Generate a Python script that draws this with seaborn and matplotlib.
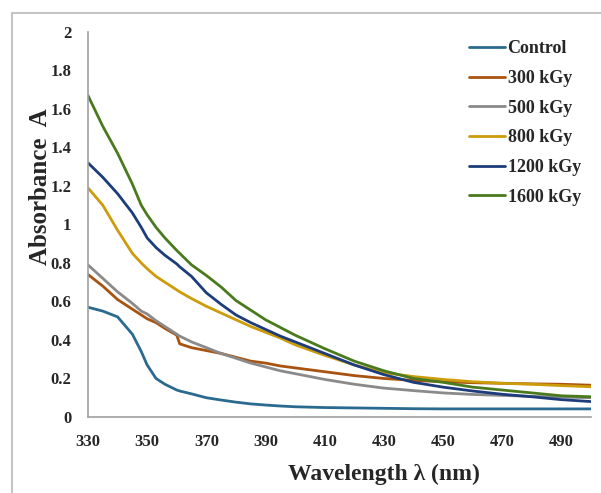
import matplotlib
matplotlib.use("Agg")
import matplotlib.pyplot as plt
from matplotlib.patches import Rectangle
import seaborn as sns
import pandas as pd

wavelength = [330, 335, 340, 345, 348, 350, 353, 356, 360, 361, 365, 370, 375, 380,
              385, 390, 395, 400, 410, 420, 430, 440, 450, 460, 470, 480, 490, 500]

control = [0.57, 0.55, 0.52, 0.43, 0.34, 0.27, 0.20, 0.17, 0.14, 0.135, 0.12, 0.10, 0.088, 0.077,
           0.068, 0.062, 0.057, 0.053, 0.049, 0.047, 0.045, 0.043, 0.042, 0.042, 0.042, 0.042, 0.042, 0.042]
kgy300 = [0.74, 0.68, 0.61, 0.56, 0.53, 0.51, 0.49, 0.46, 0.425, 0.38, 0.36, 0.345, 0.33, 0.31,
          0.29, 0.28, 0.265, 0.255, 0.235, 0.215, 0.20, 0.19, 0.183, 0.178, 0.175, 0.172, 0.17, 0.165]
kgy500 = [0.79, 0.72, 0.65, 0.59, 0.55, 0.535, 0.50, 0.47, 0.43, 0.42, 0.39, 0.36, 0.33, 0.305,
          0.28, 0.26, 0.24, 0.225, 0.195, 0.17, 0.15, 0.137, 0.125, 0.117, 0.112, 0.107, 0.103, 0.10]
kgy800 = [1.19, 1.10, 0.97, 0.85, 0.80, 0.77, 0.73, 0.70, 0.66, 0.65, 0.615, 0.575, 0.54, 0.505,
          0.47, 0.44, 0.41, 0.375, 0.32, 0.27, 0.23, 0.21, 0.195, 0.183, 0.175, 0.17, 0.163, 0.157]
kgy1200 = [1.32, 1.245, 1.16, 1.06, 0.985, 0.93, 0.88, 0.84, 0.795, 0.78, 0.73, 0.645, 0.585, 0.53,
           0.49, 0.455, 0.42, 0.39, 0.33, 0.27, 0.22, 0.18, 0.155, 0.135, 0.118, 0.105, 0.09, 0.08]
kgy1600 = [1.67, 1.51, 1.37, 1.21, 1.10, 1.05, 0.985, 0.93, 0.865, 0.85, 0.79, 0.735, 0.675, 0.605,
           0.555, 0.505, 0.465, 0.425, 0.355, 0.29, 0.24, 0.20, 0.18, 0.155, 0.14, 0.125, 0.11, 0.105]

series = ["Control", "300 kGy", "500 kGy", "800 kGy", "1200 kGy", "1600 kGy"]
values = [control, kgy300, kgy500, kgy800, kgy1200, kgy1600]
colors = ["#2b6a8f", "#a8530f", "#8a8a8a", "#cc9c0a", "#1d3c7c", "#4a7a1e"]

xticks = [330, 350, 370, 390, 410, 430, 450, 470, 490]
yticks = [0, 0.2, 0.4, 0.6, 0.8, 1, 1.2, 1.4, 1.6, 1.8, 2]
ytick_labels = ["0", "0.2", "0.4", "0.6", "0.8", "1", "1.2", "1.4", "1.6", "1.8", "2"]

rows = []
for name, vals in zip(series, values):
    for w, v in zip(wavelength, vals):
        rows.append((w, v, name))
data = pd.DataFrame(rows, columns=["wavelength", "absorbance", "sample"])

sns.set_style("white")
plt.rcParams['font.family'] = ['Liberation Serif', 'DejaVu Serif']
plt.rcParams['font.weight'] = 'bold'

fig = plt.figure(figsize=(6.01, 4.93), dpi=100)
ax = fig.add_axes([0.1464, 0.1542, 0.837, 0.781])

# light frame, only left and top edges visible in the picture
fig.patches.append(Rectangle((12 / 601, -0.05), 1.2, (493 - 13) / 493 + 0.05,
                             transform=fig.transFigure, fill=False,
                             edgecolor="#c4c4c4", linewidth=1.5, zorder=0))

sns.lineplot(data=data, x="wavelength", y="absorbance", hue="sample",
             hue_order=series, palette=colors, linewidth=2, ax=ax)

ax.set_xlim(330, 500)
ax.set_ylim(0, 2)
ax.set_xticks(xticks)
ax.set_xticklabels([str(t) for t in xticks], fontsize=12, fontweight="bold")
ax.set_yticks(yticks)
ax.set_yticklabels(ytick_labels, fontsize=12, fontweight="bold")
ax.tick_params(axis="x", length=0, pad=12)
ax.tick_params(axis="y", length=0, pad=12)

ax.set_xlabel("Wavelength λ (nm)", fontsize=17, fontweight="bold")
ax.xaxis.set_label_coords(0.588, -0.122)
ax.set_ylabel("Absorbance  A", fontsize=18, fontweight="bold")
ax.yaxis.set_label_coords(-0.072, 0.597)

for side in ["top", "right"]:
    ax.spines[side].set_visible(False)
for side in ["left", "bottom"]:
    ax.spines[side].set_color("#a0a0a0")
    ax.spines[side].set_linewidth(1.2)

leg = ax.legend(loc="upper right", bbox_to_anchor=(1.012, 1.02), frameon=False,
                handlelength=2.0, handletextpad=0.15, labelspacing=0.7,
                prop={"family": "Liberation Serif", "weight": "bold", "size": 13})
for line in leg.get_lines():
    line.set_linewidth(2)

fig.savefig("out.png", dpi=100)
